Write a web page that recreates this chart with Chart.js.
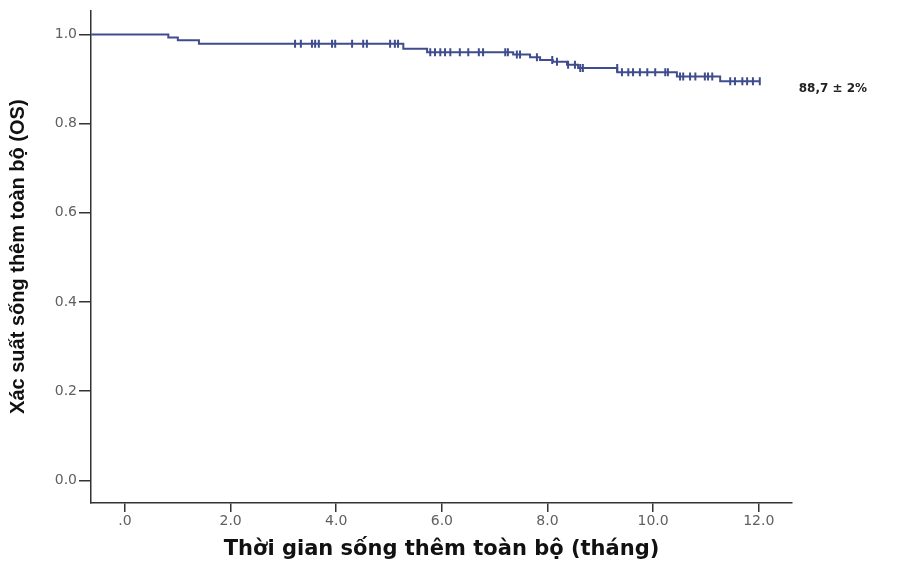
<!DOCTYPE html>
<html>
<head>
<meta charset="utf-8">
<script src="https://cdn.jsdelivr.net/npm/chart.js@4.4.1/dist/chart.umd.min.js"></script>
<style>
  body { margin: 0; background: #fff; }
  canvas { display: block; }
</style>
</head>
<body>
<canvas id="kmPlot" width="897" height="563"></canvas>
<script>
// survival steps (month, cumulative survival)
const stepTimes = [-0.64, 0.82, 1.0, 1.4, 5.27, 5.72, 7.35, 7.67, 7.86, 8.1, 8.37, 8.58, 9.32, 10.45, 11.27, 12.02];
const stepSurv  = [1.0, 0.993, 0.987, 0.979, 0.968, 0.960, 0.955, 0.949, 0.943, 0.939, 0.932, 0.925, 0.915, 0.906, 0.895, 0.895];

// censored cases
const censorTimes = [3.22, 3.33, 3.54, 3.60, 3.67, 3.92, 3.98, 4.30, 4.51, 4.58, 5.02, 5.11, 5.17,
    5.78, 5.87, 5.97, 6.06, 6.16, 6.34, 6.50, 6.70, 6.78, 7.20, 7.25,
    7.42, 7.48, 7.80, 8.09, 8.18, 8.39, 8.52, 8.62, 8.67,
    9.32, 9.41, 9.53, 9.62, 9.75, 9.89, 10.04, 10.23, 10.28,
    10.51, 10.57, 10.70, 10.80, 10.98, 11.04, 11.12,
    11.46, 11.55, 11.69, 11.78, 11.89, 12.02];
const censorSurv = [0.979, 0.979, 0.979, 0.979, 0.979, 0.979, 0.979, 0.979, 0.979, 0.979, 0.979, 0.979, 0.979,
    0.960, 0.960, 0.960, 0.960, 0.960, 0.960, 0.960, 0.960, 0.960, 0.960, 0.960,
    0.955, 0.955, 0.949, 0.943, 0.939, 0.932, 0.932, 0.925, 0.925,
    0.925, 0.915, 0.915, 0.915, 0.915, 0.915, 0.915, 0.915, 0.915,
    0.906, 0.906, 0.906, 0.906, 0.906, 0.906, 0.906,
    0.895, 0.895, 0.895, 0.895, 0.895, 0.895];

const xTicks = [0, 2, 4, 6, 8, 10, 12];
const xTickLabels = ['.0', '2.0', '4.0', '6.0', '8.0', '10.0', '12.0'];
const yTicks = [0, 0.2, 0.4, 0.6, 0.8, 1.0];
const yTickLabels = ['0.0', '0.2', '0.4', '0.6', '0.8', '1.0'];

const endLabel = '88,7 \u00b1 2%';
const endLabelPos = { x: 12.0, y: 0.877 };

const lineColor = '#3f4c8e';
const axisColor = '#333';
const tickFont = { family: 'DejaVu Sans', size: 14 };

const endLabelPlugin = {
    id: 'endLabel',
    afterDatasetsDraw(chart) {
        const c = chart.ctx;
        const x = chart.scales.x.getPixelForValue(endLabelPos.x) + 40;
        const y = chart.scales.y.getPixelForValue(endLabelPos.y);
        c.save();
        c.font = 'bold 12px "DejaVu Sans"';
        c.fillStyle = '#222';
        c.textBaseline = 'middle';
        c.fillText(endLabel, x, y);
        c.restore();
    }
};

const ctx = document.getElementById('kmPlot').getContext('2d');
new Chart(ctx, {
    type: 'scatter',
    data: {
        datasets: [
            {
                type: 'line',
                label: 'OS',
                data: stepTimes.map((t, i) => ({ x: t, y: stepSurv[i] })),
                stepped: 'before',
                borderColor: lineColor,
                borderWidth: 2,
                pointRadius: 0,
                fill: false
            },
            {
                label: 'Censored',
                data: censorTimes.map((t, i) => ({ x: t, y: censorSurv[i] })),
                pointStyle: 'line',
                rotation: 90,
                pointRadius: 4,
                borderColor: lineColor,
                borderWidth: 2,
                backgroundColor: lineColor
            }
        ]
    },
    options: {
        responsive: false,
        animation: false,
        layout: { padding: { left: 0, right: 105, top: 9, bottom: 0 } },
        plugins: {
            legend: { display: false },
            tooltip: { enabled: false }
        },
        scales: {
            x: {
                type: 'linear',
                min: -0.644,
                max: 12.63,
                afterBuildTicks: s => { s.ticks = xTicks.map(v => ({ value: v })); },
                afterFit: s => { s.height = 60; },
                grid: { drawOnChartArea: false, tickLength: 9, color: axisColor, lineWidth: 1.5 },
                border: { color: axisColor, width: 1.5 },
                ticks: {
                    color: '#606060',
                    font: tickFont,
                    padding: 1,
                    maxRotation: 0,
                    callback: v => xTickLabels[xTicks.indexOf(v)]
                },
                title: {
                    display: true,
                    text: 'Thời gian sống thêm toàn bộ (tháng)',
                    color: '#111',
                    font: { family: 'DejaVu Sans', size: 21, weight: 'bold' },
                    padding: { top: 0, bottom: 1 }
                }
            },
            y: {
                min: -0.051,
                max: 1.054,
                afterBuildTicks: s => { s.ticks = yTicks.map(v => ({ value: v })); },
                afterFit: s => { s.width = 91; },
                grid: { drawOnChartArea: false, tickLength: 12, color: axisColor, lineWidth: 1.5 },
                border: { color: axisColor, width: 1.5 },
                ticks: {
                    color: '#606060',
                    font: tickFont,
                    padding: 2,
                    callback: v => yTickLabels[yTicks.findIndex(t => Math.abs(t - v) < 1e-9)]
                },
                title: {
                    display: true,
                    text: 'Xác suất sống thêm toàn bộ (OS)',
                    color: '#111',
                    font: { family: '"Liberation Sans Narrow", "Liberation Sans"', size: 20, weight: 'bold' },
                    padding: { top: 6, bottom: 0 }
                }
            }
        }
    },
    plugins: [endLabelPlugin]
});
</script>
</body>
</html>
